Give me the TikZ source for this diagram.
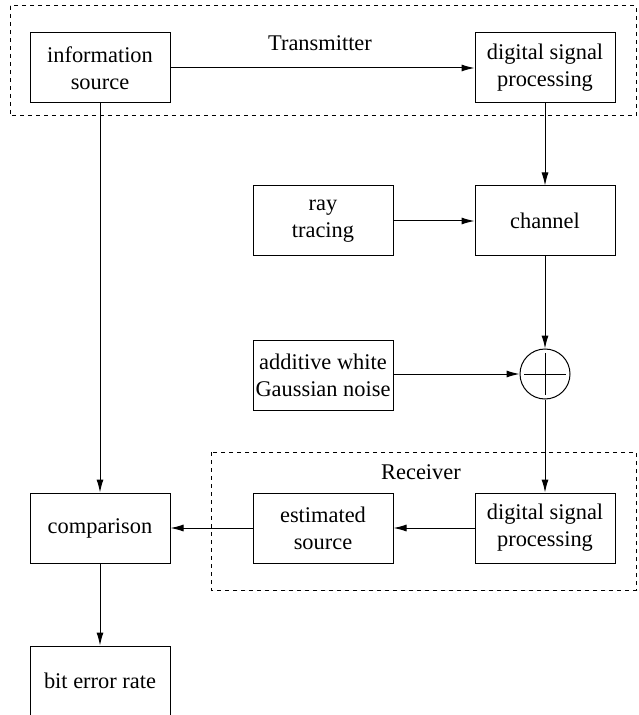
\documentclass[tikz,border=0pt]{standalone}
\usepackage{fontspec}
\setmainfont{Liberation Serif}
\usetikzlibrary{arrows.meta}

\tikzset{
  block/.style={draw, line width=.5pt, minimum width=70pt, minimum height=35pt,
    inner sep=0pt, align=center, font=\fontsize{11.2}{13.5}\selectfont},
  link/.style={line width=.5pt, -{Latex[length=6.5pt,width=3.5pt]}},
  frame/.style={line width=.5pt, dash pattern=on 2pt off 2pt},
  caption/.style={font=\fontsize{11.2}{13.5}\selectfont},
}

\begin{document}
\begin{tikzpicture}[x=.5pt, y=-.5pt]
    \useasboundingbox (0,0) rectangle (638,715);

    \draw[frame] (10,6) rectangle (636,116);
    \draw[frame] (211,452) rectangle (636,590);
    \node[caption] (txlabel) at (320,43) {Transmitter};
    \node[caption] (rxlabel) at (421,472) {Receiver};

    \node[block] (source) at (100,68) {information\\source};
    \node[block] (txdsp) at (545,68) {digital signal\\processing};
    \node[block] (ray) at (323,221) {ray\\tracing};
    \node[block] (channel) at (545,221) {channel};
    \node[block] (awgn) at (323,375) {additive white\\Gaussian noise};
    \node[draw, circle, line width=.5pt, minimum size=25pt, inner sep=0pt] (sum) at (545,374) {};
    \draw[line width=.5pt] (sum.center) ++(-21,0) -- ++(42,0);
    \draw[line width=.5pt] (sum.center) ++(0,-21) -- ++(0,42);
    \node[block] (rxdsp) at (545,528) {digital signal\\processing};
    \node[block] (estimate) at (323,528) {estimated\\source};
    \node[block] (compare) at (100,528) {comparison};
    \node[block] (ber) at (100,681) {bit error rate};

    \draw[link] (source) -- (txdsp);
    \draw[link] (txdsp) -- (channel);
    \draw[link] (ray) -- (channel);
    \draw[link] (channel.south) -- (sum.north);
    \draw[link] (awgn.east |- sum) -- (sum.west);
    \draw[link] (sum.south) -- (rxdsp.north);
    \draw[link] (rxdsp) -- (estimate);
    \draw[link] (estimate) -- (compare);
    \draw[link] (source) -- (compare);
    \draw[link] (compare) -- (ber);
\end{tikzpicture}
\end{document}
